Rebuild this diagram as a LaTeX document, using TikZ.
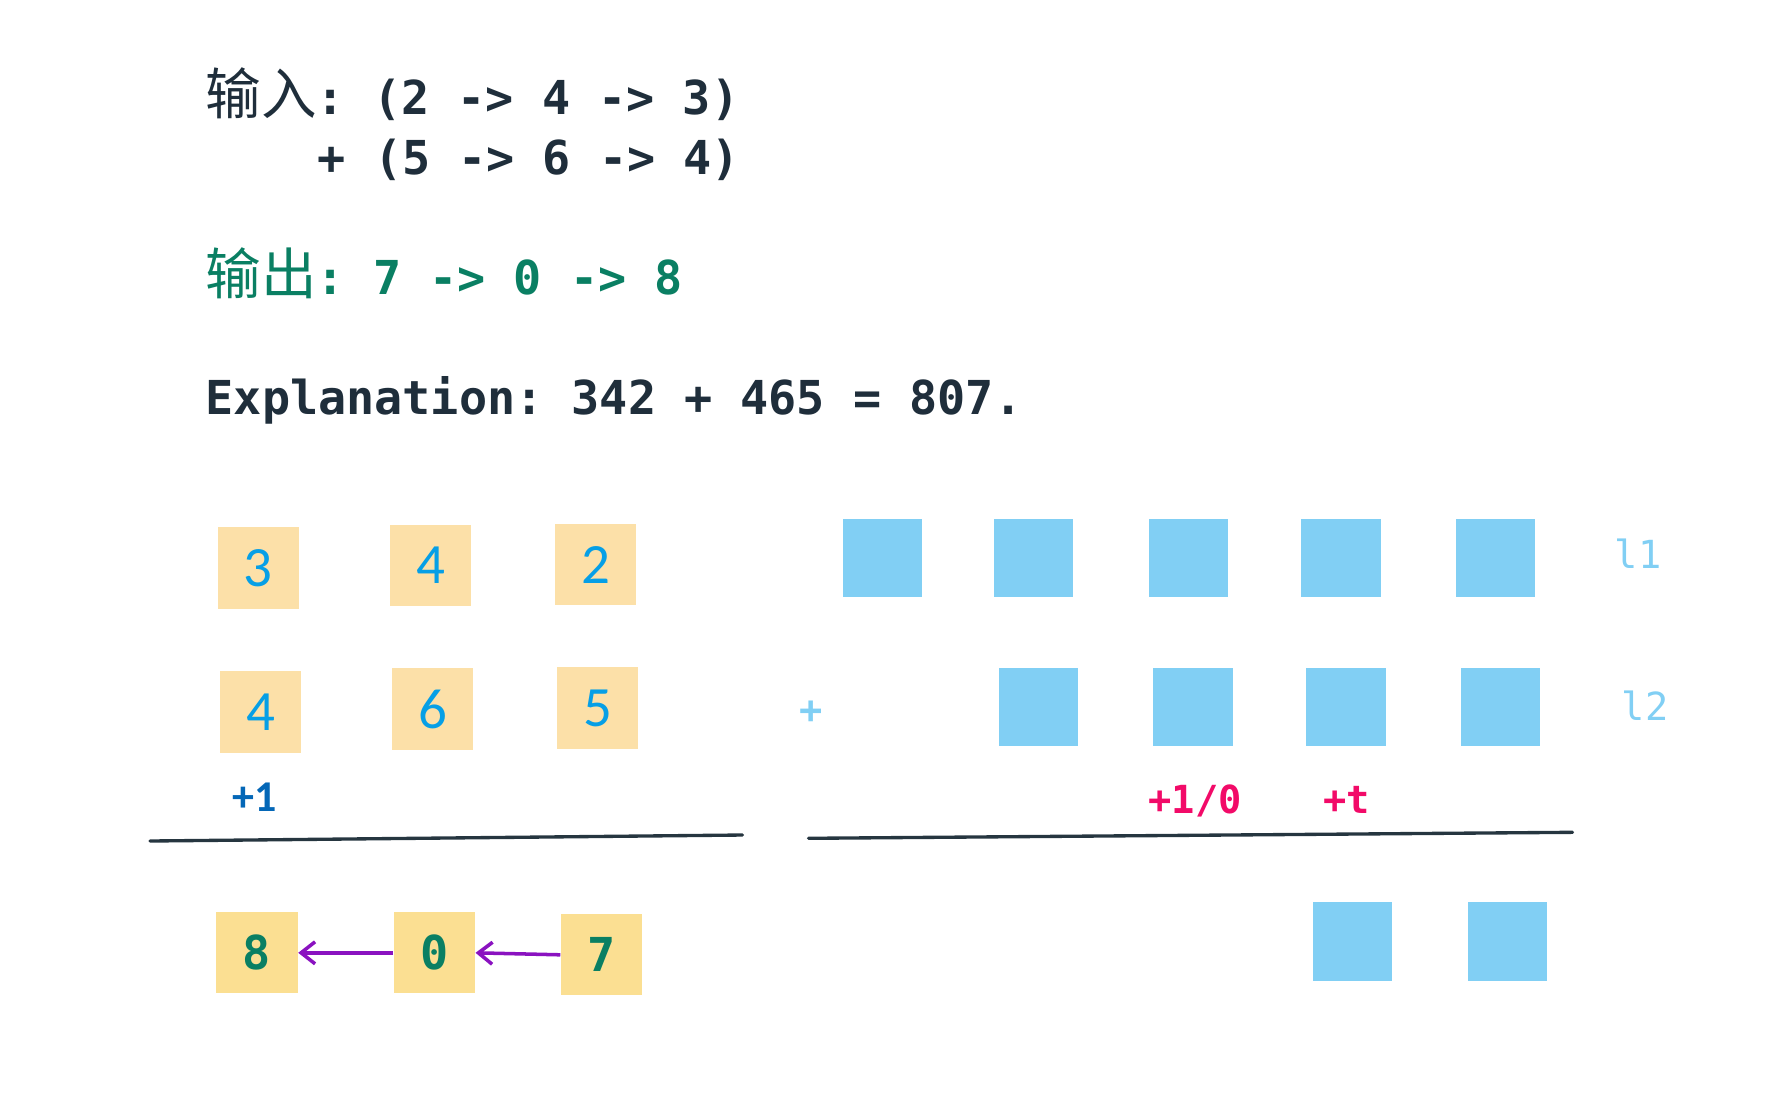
\documentclass[tikz,border=0pt]{standalone}
\usepackage{fontspec}
\usetikzlibrary{arrows.meta}
\newfontfamily\monofont{DejaVu Sans Mono}
\newfontfamily\cjkfont{Noto Sans CJK SC}
\newfontfamily\boxfont{Carlito}
\definecolor{ink}{HTML}{1F2E3B}
\definecolor{outgreen}{HTML}{0A7F63}
\definecolor{cellfill}{HTML}{FCE0A8}
\definecolor{cellfillb}{HTML}{FBDF92}
\definecolor{digitblue}{HTML}{069FE6}
\definecolor{sky}{HTML}{81CFF4}
\definecolor{carryblue}{HTML}{0467B7}
\definecolor{carrypink}{HTML}{F20A68}
\definecolor{arrowpurple}{HTML}{8A12C0}
\definecolor{rulecol}{HTML}{263640}
\newcommand{\zh}[1]{{\cjkfont\mdseries\fontsize{15.8}{18}\selectfont #1}}
\tikzset{
    txt/.style={inner sep=0pt, anchor=base west, text=ink, font=\monofont\bfseries\fontsize{13.3}{16}\selectfont},
    numbox/.style={fill=cellfill, minimum width=0.81cm, minimum height=0.81cm, inner sep=0pt,
        text=digitblue, font=\boxfont\fontsize{16.2}{18}\selectfont},
    sumbox/.style={numbox, fill=cellfillb, text=outgreen, font=\monofont\bfseries\fontsize{13.3}{16}\selectfont},
    skybox/.style={fill=sky, minimum width=0.79cm, minimum height=0.78cm, inner sep=0pt},
    carrytxt/.style={inner sep=0pt, font=\monofont\bfseries\fontsize{11}{13}\selectfont, text=carrypink},
    listname/.style={inner sep=0pt, anchor=base west, text=sky, font=\monofont\fontsize{11}{13}\selectfont},
    rulestroke/.style={rulecol, line width=0.95pt, line cap=round},
    linkarrow/.style={arrowpurple, line width=1pt, -{Straight Barb[length=1.4mm,width=2.2mm]}}
}
\frenchspacing
\begin{document}
\begin{tikzpicture}[x=0.01cm,y=-0.01cm]

    \useasboundingbox (0,0) rectangle (1772,1096);

    %input / output
    \node[txt] (inp) at (205,114) {\zh{输入}: (2 -> 4 -> 3)};
    \node[txt] (inp2) at (317,174) {+ (5 -> 6 -> 4)};
    \node[txt, text=outgreen] (outp) at (205,294) {\zh{输出}: 7 -> 0 -> 8};
    \node[txt] (expl) at (205,414) {Explanation: 342 + 465 = 807.};

    %left: digits
    \foreach \i/\x/\y/\d in {1/258.4/568/3, 2/430.5/565.5/4, 3/595.5/564.5/2} {
        \node[numbox] (top\i) at (\x,\y) {\d};
    }
    \foreach \i/\x/\y/\d in {1/260.5/712/4, 2/432.5/709/6, 3/597.5/708/5} {
        \node[numbox] (mid\i) at (\x,\y) {\d};
    }
    \node[inner sep=0pt, text=carryblue, font=\boxfont\bfseries\fontsize{12.5}{14}\selectfont] (carry) at (255,797) {+1};
    \draw[rulestroke] (150,841) -- (742.5,835);
    \foreach \i/\x/\y/\d in {1/257/952.8/8, 2/434.3/952.8/0, 3/601.5/954.8/7} {
        \node[sumbox] (sum\i) at (\x,\y) {\d};
    }
    \draw[linkarrow] (sum2.west) -- (sum1.east);
    \draw[linkarrow] (sum3.west) -- (sum2.east);

    %right: lists
    \foreach \i/\x in {1/882.6, 2/1033.3, 3/1188.3, 4/1341, 5/1495.7} {
        \node[skybox] (la\i) at (\x,558.3) {};
    }
    \node[listname] (lone) at (1614,568) {l1};
    \node[inner sep=0pt, text=sky, font=\monofont\bfseries\fontsize{11}{13}\selectfont] (plus) at (811,712.5) {+};
    \foreach \i/\x in {1/1038.2, 2/1193, 3/1346, 4/1500.7} {
        \node[skybox] (lb\i) at (\x,707.3) {};
    }
    \node[listname] (ltwo) at (1621,720) {l2};
    \node[carrytxt, anchor=base] (flag) at (1195,813) {+1/0};
    \node[carrytxt, anchor=base] (addt) at (1346.5,813) {+t};
    \draw[rulestroke] (808.5,838.3) -- (1572.5,832.3);
    \foreach \i/\x in {1/1352.5, 2/1507.5} {
        \node[skybox] (lc\i) at (\x,941.5) {};
    }

\end{tikzpicture}
\end{document}
